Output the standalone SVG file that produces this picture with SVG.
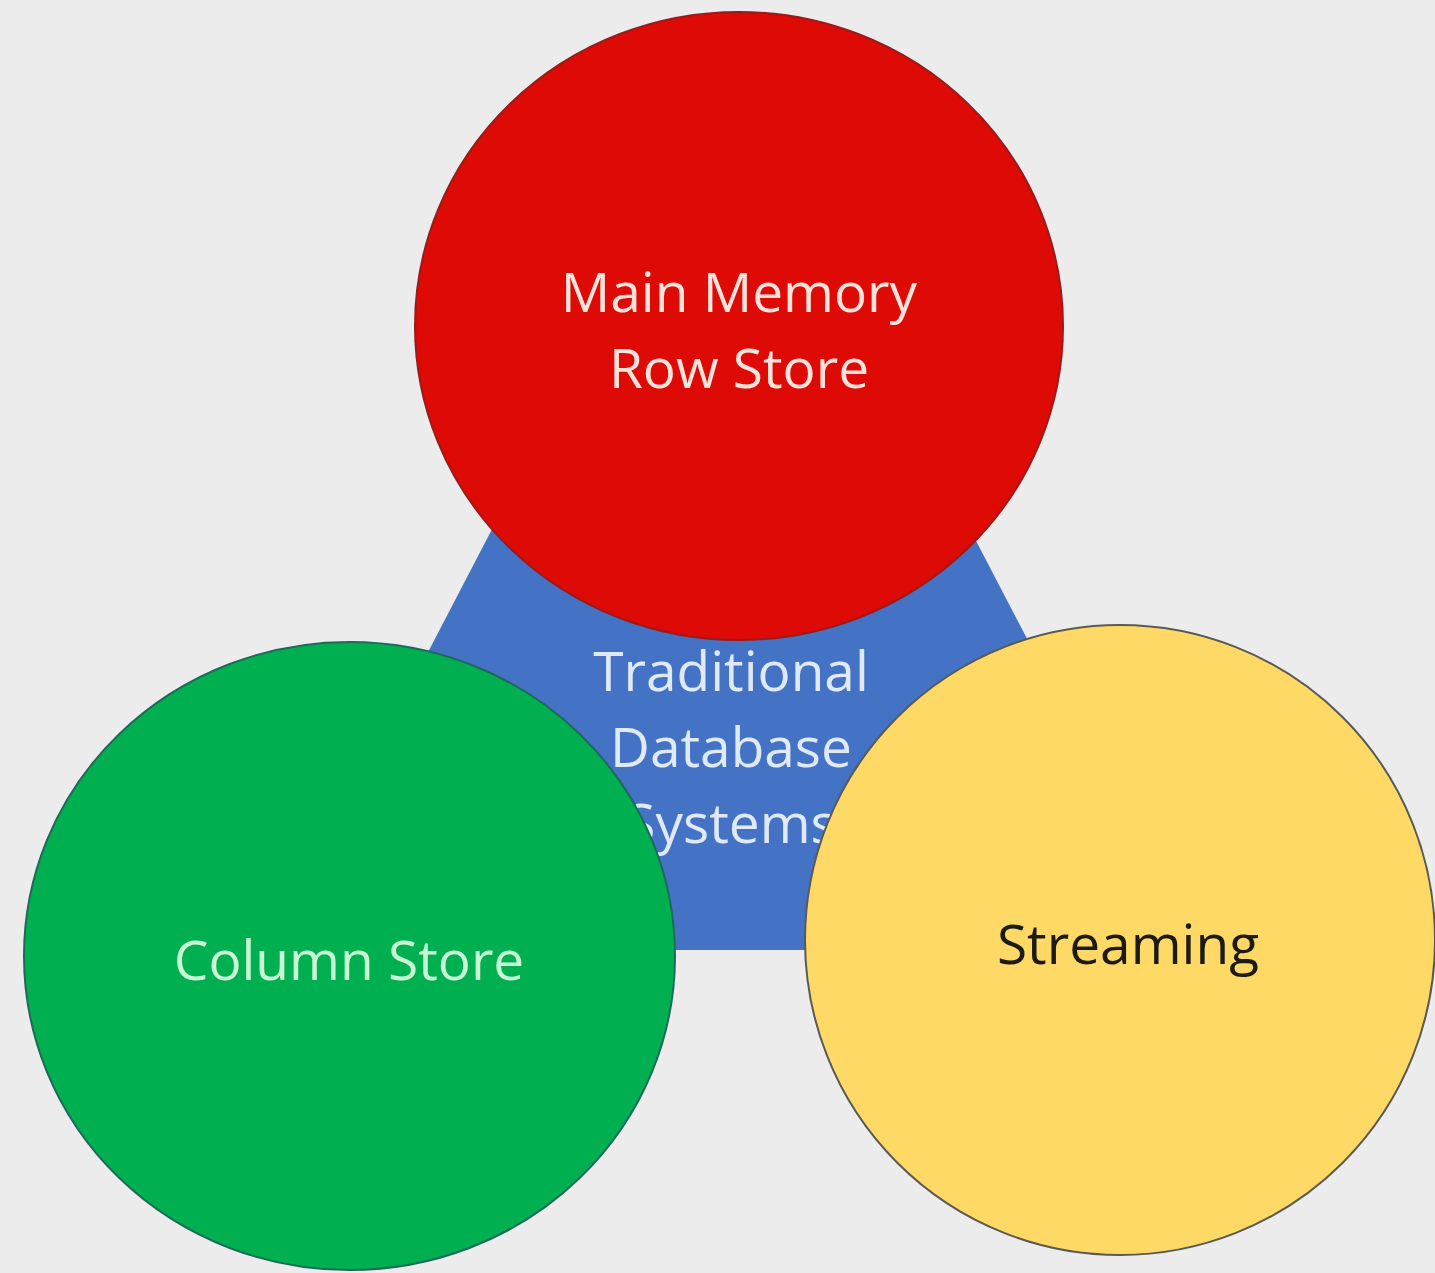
<svg xmlns="http://www.w3.org/2000/svg" width="1435" height="1273" viewBox="0 0 1435 1273">
<style>
.lbl{font-family:"Open Sans","Liberation Sans",sans-serif;font-size:55px;font-weight:500;text-anchor:middle}
</style>
<rect width="1435" height="1273" fill="#ececec"/>
<g id="traditional">
<polygon points="731,70 1189,950 273,950" fill="#4472c4"/>
<text class="lbl" fill="#dfe9f7"><tspan x="731" y="691">Traditional</tspan><tspan x="731" y="767">Database</tspan><tspan x="731" y="843">Systems</tspan></text>
</g>
<g id="main-memory">
<ellipse cx="739" cy="326" rx="324" ry="314" fill="#dd0a05" stroke="#9b1b1b" stroke-width="2"/>
<text class="lbl" fill="#fbe3dc"><tspan x="739" y="312">Main Memory</tspan><tspan x="739" y="388">Row Store</tspan></text>
</g>
<g id="column-store">
<ellipse cx="349.5" cy="956" rx="325.5" ry="314" fill="#00b050" stroke="#1e6a5a" stroke-width="2"/>
<text class="lbl" fill="#c9f7d4" x="349" y="980">Column Store</text>
</g>
<g id="streaming">
<ellipse cx="1120" cy="940" rx="315" ry="315" fill="#ffd966" stroke="#5a5a55" stroke-width="2"/>
<text class="lbl" fill="#1c1a12" x="1128" y="964">Streaming</text>
</g>
<g id="connectors"/>
</svg>
